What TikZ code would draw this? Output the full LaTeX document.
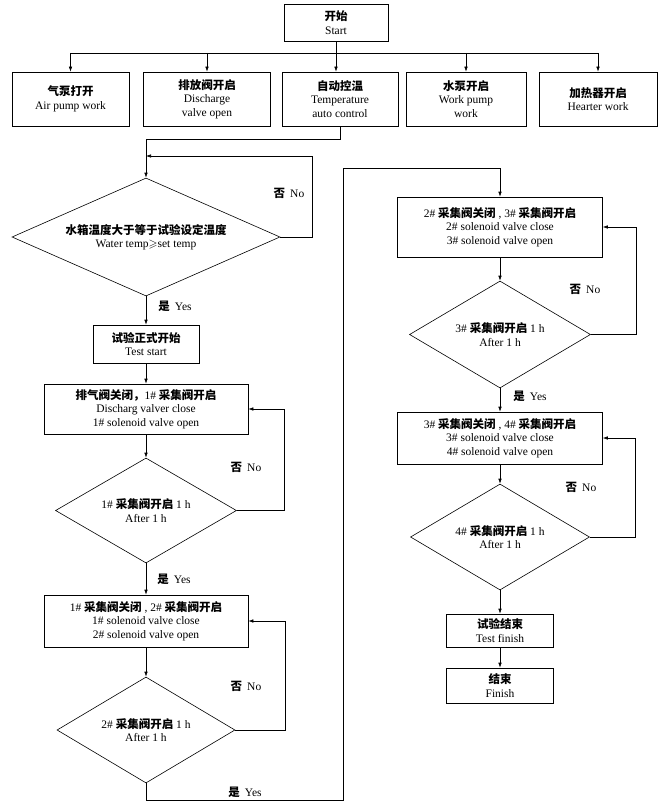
\documentclass[tikz,border=0pt]{standalone}
\usepackage{fontspec}
\usepackage{amssymb}
\setmainfont{Liberation Serif}
\newfontfamily\cjk{Noto Sans CJK SC}
\newcommand{\zh}[1]{{\cjk\bfseries #1}}
\usetikzlibrary{shapes.geometric,arrows.meta}

\begin{document}
\begin{tikzpicture}[x=1pt,y=-1pt,line width=0.6pt,
	>={Latex[length=5pt,width=3.5pt]},
	every node/.style={font=\fontsize{11.5}{13.5}\selectfont,align=center,inner sep=0pt},
	proc/.style={draw,rectangle},
	cond/.style={draw,diamond}]
\useasboundingbox (0,0) rectangle (665,808);

% top row
\node[proc,minimum width=104pt,minimum height=37pt] (start) at (336,22.5) {\zh{开始}\\Start};
\node[proc,minimum width=117pt,minimum height=54pt] (air) at (70.5,99) {\zh{气泵打开}\\Air pump work};
\node[proc,minimum width=127pt,minimum height=54pt] (dis) at (207,99) {\zh{排放阀开启}\\Discharge\\valve open};
\node[proc,minimum width=116pt,minimum height=54pt] (temp) at (340,99) {\zh{自动控温}\\Temperature\\auto control};
\node[proc,minimum width=120pt,minimum height=54pt] (pump) at (466,99) {\zh{水泵开启}\\Work pump\\work};
\node[proc,minimum width=118pt,minimum height=54pt] (heat) at (598,99) {\zh{加热器开启}\\Hearter work};

\coordinate (bus) at (0,53);
\draw[->] (start.south) -- (start.south |- temp.north);
\draw (air.north |- bus) -- (heat.north |- bus);
\foreach \n in {air,dis,pump,heat}{
	\draw[->] (\n.north |- bus) -- (\n.north);}

% left column
\node[cond,minimum width=268pt,minimum height=118pt,aspect=2.27] (cmp) at (146,237) {\zh{水箱温度大于等于试验设定温度}\\Water temp$\geqslant$set temp};
\node[proc,minimum width=106pt,minimum height=38pt] (tstart) at (146,344) {\zh{试验正式开始}\\Test start};
\node[proc,minimum width=204pt,minimum height=50pt] (v1) at (146,409) {\zh{排气阀关闭，}1\# \zh{采集阀开启}\\Discharg valver close\\1\# solenoid valve open};
\node[cond,minimum width=181pt,minimum height=105pt,aspect=1.72] (d1) at (146,510.5) {1\# \zh{采集阀开启} 1 h\\After 1 h};
\node[proc,minimum width=204pt,minimum height=52pt] (v2) at (146,621) {1\# \zh{采集阀关闭} , 2\# \zh{采集阀开启}\\1\# solenoid valve close\\2\# solenoid valve open};
\node[cond,minimum width=178pt,minimum height=106pt,aspect=1.68] (d2) at (146,730) {2\# \zh{采集阀开启} 1 h\\After 1 h};

% right column
\node[proc,minimum width=205pt,minimum height=60pt] (v3) at (500,227) {2\# \zh{采集阀关闭} , 3\# \zh{采集阀开启}\\2\# solenoid valve close\\3\# solenoid valve open};
\node[cond,minimum width=181pt,minimum height=107pt,aspect=1.69] (d3) at (500,334.5) {3\# \zh{采集阀开启} 1 h\\After 1 h};
\node[proc,minimum width=205pt,minimum height=52pt] (v4) at (500,438) {3\# \zh{采集阀关闭} , 4\# \zh{采集阀开启}\\3\# solenoid valve close\\4\# solenoid valve open};
\node[cond,minimum width=179pt,minimum height=106pt,aspect=1.69] (d4) at (500,537) {4\# \zh{采集阀开启} 1 h\\After 1 h};
\node[proc,minimum width=107pt,minimum height=33pt] (tend) at (500,630.5) {\zh{试验结束}\\Test finish};
\node[proc,minimum width=107pt,minimum height=35pt] (fin) at (500,685.5) {\zh{结束}\\Finish};

% yes / no labels
\node (no0) at (289,193) {\zh{否}\hspace{5pt}No};
\node (no1) at (246,467) {\zh{否}\hspace{5pt}No};
\node (no2) at (246,686) {\zh{否}\hspace{5pt}No};
\node (no3) at (585,289) {\zh{否}\hspace{5pt}No};
\node (no4) at (581,487) {\zh{否}\hspace{5pt}No};
\node (yes0) at (175,306) {\zh{是}\hspace{5pt}Yes};
\node (yes1) at (174,579) {\zh{是}\hspace{5pt}Yes};
\node (yes2) at (245,792) {\zh{是}\hspace{5pt}Yes};
\node (yes3) at (530,396) {\zh{是}\hspace{5pt}Yes};

% connectors
\draw[->] (temp.south) -- ++(0,13) -| (cmp.north);
\draw[->] (cmp.east) -- ++(32,0) |- (cmp.north |- 0,156);
\draw[->] (cmp.south) -- (tstart.north);
\draw[->] (tstart) -- (v1);
\draw[->] (v1) -- (d1);
\draw[->] (d1.east) -- ++(47,0) |- (v1.east);
\draw[->] (d1) -- (v2);
\draw[->] (v2) -- (d2);
\draw[->] (d2.east) -- ++(50,0) |- (v2.east);

\coordinate (c1) at (343,800);
\coordinate (c2) at (343,168);
\draw[->] (d2.south) |- (c1) -- (c2) -| (v3.north);

\draw[->] (v3) -- (d3);
\draw[->] (d3.east) -- ++(45.5,0) |- (v3.east);
\draw[->] (d3) -- (v4);
\draw[->] (v4) -- (d4);
\draw[->] (d4.east) -- ++(45.5,0) |- (v4.east);
\draw[->] (d4) -- (tend);
\draw[->] (tend) -- (fin);

\end{tikzpicture}
\end{document}
